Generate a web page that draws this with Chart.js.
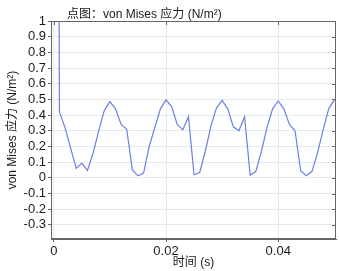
<!DOCTYPE html>
<html>
<head>
<meta charset="utf-8">
<script src="https://cdn.jsdelivr.net/npm/chart.js@4.4.0/dist/chart.umd.min.js"></script>
<style>
  html, body { margin: 0; padding: 0; background: #fff; }
  #wrap { position: relative; width: 339px; height: 271px; }
  #title {
    position: absolute; left: 67px; top: 4px;
    font: 12px "Liberation Sans", Arial, "Noto Sans CJK SC", sans-serif;
    color: #1a1a1a; white-space: nowrap;
  }
</style>
</head>
<body>
<div id="wrap">
  <canvas id="chart" width="339" height="271"></canvas>
  <div id="title">点图：von Mises 应力 (N/m²)</div>
</div>
<script>
// time in seconds, one sample per ms
const times = [
  0, 0.001, 0.002, 0.003, 0.004, 0.005, 0.006, 0.007, 0.008, 0.009,
  0.010, 0.011, 0.012, 0.013, 0.014, 0.015, 0.016, 0.017, 0.018, 0.019,
  0.020, 0.021, 0.022, 0.023, 0.024, 0.025, 0.026, 0.027, 0.028, 0.029,
  0.030, 0.031, 0.032, 0.033, 0.034, 0.035, 0.036, 0.037, 0.038, 0.039,
  0.040, 0.041, 0.042, 0.043, 0.044, 0.045, 0.046, 0.047, 0.048, 0.049,
  0.050
];
// von Mises stress (N/m^2)
const stress = [
  12, 0.42, 0.32, 0.19, 0.06, 0.094, 0.047, 0.157, 0.30, 0.43,
  0.486, 0.44, 0.34, 0.31, 0.05, 0.013, 0.03, 0.20, 0.32, 0.44,
  0.497, 0.454, 0.34, 0.306, 0.39, 0.02, 0.034, 0.168, 0.33, 0.445,
  0.495, 0.44, 0.325, 0.30, 0.39, 0.017, 0.04, 0.168, 0.32, 0.44,
  0.49, 0.44, 0.34, 0.30, 0.045, 0.013, 0.04, 0.157, 0.306, 0.44,
  0.497
];
const xTickValues = [0, 0.02, 0.04];
const yTickValues = [1, 0.9, 0.8, 0.7, 0.6, 0.5, 0.4, 0.3, 0.2, 0.1, 0, -0.1, -0.2, -0.3];

const fontFamily = '"Liberation Sans", Arial, "Noto Sans CJK SC", sans-serif';
const textColor = '#1a1a1a';
const frameColor = '#666';

// full frame plus small inward tick marks on the top and right edges
const frameAndTicks = {
  id: 'frameAndTicks',
  afterDraw(chart) {
    const { ctx, chartArea: a, scales } = chart;
    ctx.save();
    ctx.strokeStyle = frameColor;
    ctx.lineWidth = 1;
    ctx.strokeRect(Math.round(a.left) + 0.5, Math.round(a.top) + 0.5,
      Math.round(a.right - a.left) - 1, Math.round(a.bottom - a.top) - 1);
    ctx.beginPath();
    scales.y.ticks.forEach(t => {
      const y = Math.round(scales.y.getPixelForValue(t.value)) + 0.5;
      ctx.moveTo(a.right, y);
      ctx.lineTo(a.right - 4, y);
    });
    scales.x.ticks.forEach(t => {
      const x = Math.round(scales.x.getPixelForValue(t.value)) + 0.5;
      ctx.moveTo(x, a.top);
      ctx.lineTo(x, a.top + 4);
    });
    ctx.stroke();
    ctx.restore();
  }
};

new Chart(document.getElementById('chart'), {
  type: 'line',
  data: {
    datasets: [{
      data: times.map((t, i) => ({ x: t, y: stress[i] })),
      borderColor: '#6b80e4',
      borderWidth: 1.2,
      pointRadius: 0,
      tension: 0,
      fill: false
    }]
  },
  options: {
    responsive: false,
    animation: false,
    devicePixelRatio: 1,
    layout: { padding: { top: 21, right: 3, left: 0, bottom: 0 } },
    plugins: { legend: { display: false }, tooltip: { enabled: false } },
    scales: {
      x: {
        type: 'linear',
        min: -0.0005,
        max: 0.0503,
        afterFit: s => { s.height = 32; },
        afterBuildTicks: s => { s.ticks = xTickValues.map(v => ({ value: v })); },
        ticks: {
          autoSkip: false,
          maxRotation: 0,
          padding: 2,
          color: textColor,
          font: { family: fontFamily, size: 13 },
          callback: v => String(v)
        },
        grid: { color: '#e9e9e9', tickLength: 3, tickColor: frameColor },
        border: { color: frameColor, width: 1 },
        title: {
          display: true,
          text: '时间 (s)',
          color: textColor,
          font: { family: fontFamily, size: 12 },
          padding: { top: 0, bottom: 1 }
        }
      },
      y: {
        min: -0.39,
        max: 1,
        afterFit: s => { s.width = 51; },
        afterBuildTicks: s => { s.ticks = yTickValues.map(v => ({ value: v })); },
        ticks: {
          autoSkip: false,
          padding: 2,
          color: textColor,
          font: { family: fontFamily, size: 13 },
          callback: v => String(v)
        },
        grid: { color: '#e9e9e9', tickLength: 3, tickColor: frameColor },
        border: { color: frameColor, width: 1 },
        title: {
          display: true,
          text: 'von Mises 应力 (N/m²)',
          color: textColor,
          font: { family: fontFamily, size: 12 },
          padding: { top: 5, bottom: 2 }
        }
      }
    }
  },
  plugins: [frameAndTicks]
});
</script>
</body>
</html>
